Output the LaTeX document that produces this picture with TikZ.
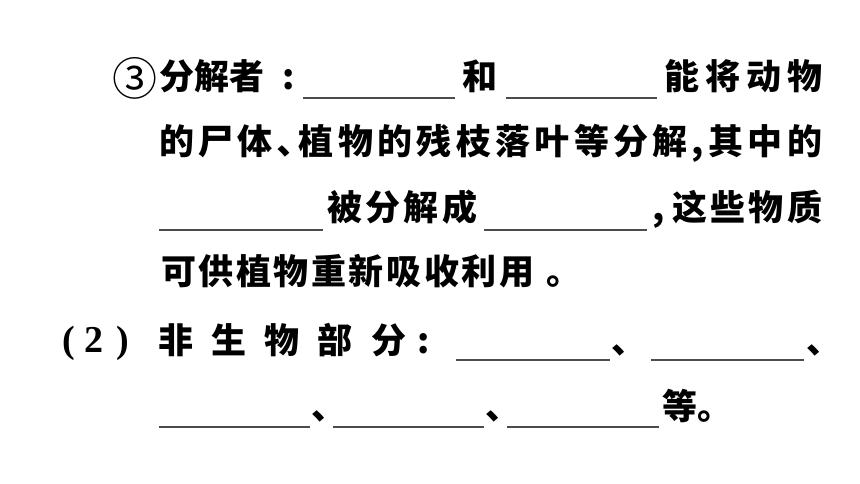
\documentclass[tikz,border=0pt]{standalone}
\usepackage{fontspec}
\newfontfamily\cjk{Noto Sans CJK SC}
\newfontfamily\numfont{Liberation Serif}
\newcommand\bodyfont{\cjk\bfseries\fontsize{35}{35}\selectfont}
\newcommand\labfont{\numfont\bfseries\fontsize{38}{38}\selectfont}
% spread the characters of #2 over a box #1pt wide
\def\fillcharsA#1#2{#1\ifx\relax#2\else\hfill\expandafter\fillcharsA\expandafter#2\fi}
\newcommand\spreadto[2]{\makebox[#1pt][l]{\fillcharsA#2\relax}}

\begin{document}
\begin{tikzpicture}[x=1pt,y=-1pt,
    seg/.style={anchor=base west, inner sep=0pt, font=\bodyfont},
    lab/.style={anchor=base, inner sep=0pt, font=\labfont},
    blank/.style={line width=1.4pt, black!70}]
    \useasboundingbox (0,0) rectangle (860,484);
    % line 1
    \node[inner sep=0pt, font=\cjk\fontsize{45}{45}\selectfont] (circ) at (135,78) {③};
    \node[seg] (fjz) at (159,90) {\spreadto{105}{分解者}};
    \node[seg] (colA) at (282,90) {:};
    \coordinate (b1l) at (303,98);
    \coordinate (b1r) at (455,98);
    \node[seg] (he) at (462,90) {和};
    \coordinate (b2l) at (506,98);
    \coordinate (b2r) at (657,98);
    \node[seg] (neng) at (664,90) {\spreadto{158}{能将动物}};
    % line 2
    \node[seg] (shiti) at (159,155) {\spreadto{663}{的尸体､植物的残枝落叶等分解,其中的}};
    % line 3
    \coordinate (b3l) at (159,230);
    \coordinate (b3r) at (323,230);
    \node[seg] (bfj) at (327,221) {\spreadto{150}{被分解成}};
    \coordinate (b4l) at (484,230);
    \coordinate (b4r) at (647,230);
    \node[seg] (comA) at (652,221) {,};
    \node[seg] (zxwz) at (672,221) {\spreadto{150}{这些物质}};
    % line 4
    \node[seg] (kgzw) at (161,284) {\spreadto{373}{可供植物重新吸收利用}};
    \node[seg] (juA) at (546,284) {。};
    % line 5
    \node[lab] (pl) at (69,352) {(};
    \node[lab] (two) at (94,352) {2};
    \node[lab] (pr) at (123,352) {)};
    \node[seg] (fswbf) at (158,353) {\spreadto{248}{非生物部分}};
    \node[seg] (colB) at (417,353) {:};
    \coordinate (b5l) at (456,360);
    \coordinate (b5r) at (610,360);
    \node[seg] (dunA) at (611,353) {、};
    \coordinate (b6l) at (651,360);
    \coordinate (b6r) at (804,360);
    \node[seg] (dunB) at (806,353) {、};
    % line 6
    \coordinate (b7l) at (159,427);
    \coordinate (b7r) at (310,427);
    \node[seg] (dunC) at (311,419) {、};
    \coordinate (b8l) at (333,427);
    \coordinate (b8r) at (484,427);
    \node[seg] (dunD) at (485,419) {、};
    \coordinate (b9l) at (507,427);
    \coordinate (b9r) at (659,427);
    \node[seg] (deng) at (662,419) {等};
    \node[seg] (juB) at (697,419) {。};
    % blanks
    \foreach \b in {1,...,9}
        \draw[blank] (b\b l) -- (b\b r);
\end{tikzpicture}
\end{document}
